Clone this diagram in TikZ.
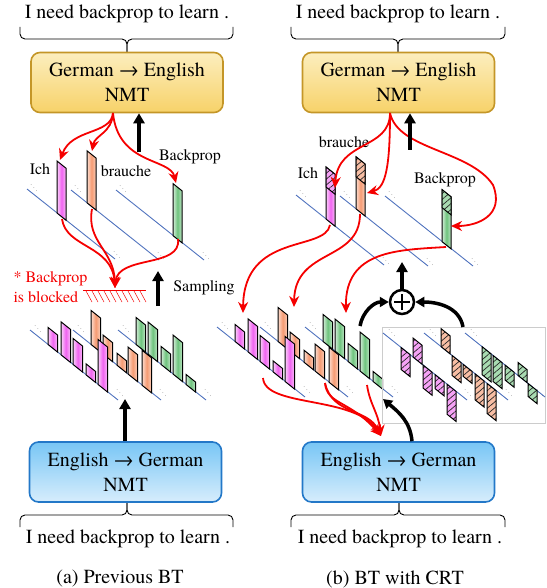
\documentclass[tikz,border=0pt]{standalone}
\usepackage{fontspec}
\setmainfont{TeX Gyre Termes}
\usetikzlibrary{arrows.meta,positioning,patterns.meta}
\definecolor{goldtop}{RGB}{252,238,190}
\definecolor{goldbot}{RGB}{247,210,105}
\definecolor{goldedge}{RGB}{196,150,40}
\definecolor{bluetop}{RGB}{120,198,245}
\definecolor{bluebot}{RGB}{215,237,252}
\definecolor{blueedge}{RGB}{35,120,200}
\definecolor{barpink}{RGB}{240,100,240}
\definecolor{barorange}{RGB}{245,155,115}
\definecolor{bargreen}{RGB}{110,195,125}
\definecolor{axisblue}{RGB}{80,115,190}
\definecolor{arrred}{RGB}{245,0,0}

\begin{document}
\begin{tikzpicture}[x=1pt,y=-1pt,
  every node/.style={font=\fontsize{16}{19}\selectfont},
  sent/.style={font=\fontsize{20}{24}\selectfont,inner sep=0pt},
  nmtgold/.style={draw=goldedge,line width=1.6pt,rounded corners=9pt,
    top color=goldtop,bottom color=goldbot,minimum width=192pt,minimum height=60pt,
    align=center,font=\fontsize{20}{25}\selectfont},
  nmtblue/.style={draw=blueedge,line width=1.6pt,rounded corners=9pt,
    top color=bluetop,bottom color=bluebot,minimum width=192pt,minimum height=60pt,
    align=center,font=\fontsize{20}{25}\selectfont},
  brace/.style={line width=0.9pt,rounded corners=5pt},
  axis/.style={draw=axisblue,line width=0.9pt},
  dots/.style={font=\fontsize{7}{7}\selectfont,inner sep=0pt,text=black!75},
  pinkbar/.style={draw=black,line width=1pt,left color=barpink!30,right color=barpink!45,middle color=barpink},
  orangebar/.style={draw=black,line width=1pt,left color=barorange!35,right color=barorange!50,middle color=barorange},
  greenbar/.style={draw=black,line width=1pt,left color=bargreen!30,right color=bargreen!45,middle color=bargreen},
  hatch/.style={draw=black,line width=1pt,pattern={Lines[angle=40,distance=4.5pt,line width=0.7pt]},pattern color=black!85},
  pinkhatch/.style={hatch,preaction={fill=barpink!60}},
  orangehatch/.style={hatch,preaction={fill=barorange!65}},
  greenhatch/.style={hatch,preaction={fill=bargreen!60}},
  redarr/.style={draw=arrred,line width=1.8pt,-{Stealth[length=11pt,width=10pt]}},
  uparr/.style={line width=3.5pt,-{Triangle[length=10pt,width=11pt]}},
  bentarr/.style={line width=3.5pt,-{Triangle[length=9pt,width=10pt]}},
  oplus/.style={circle,draw,line width=2.5pt,minimum size=24pt,inner sep=0pt},
  % one token per row
  onehot/.pic={
    \draw[axis] (0,0) -- ++(88,70);
    \draw[axis] (44,1) -- ++(88,70);
    \draw[axis] (89,1) -- ++(88,70);
    \draw[pinkbar] (30,24) -- ++(9,7.2) -- ++(0,-52) -- ++(-9,-7.2) -- cycle;
    \draw[orangebar] (60,13.8) -- ++(9,7.2) -- ++(0,-52) -- ++(-9,-7.2) -- cycle;
    \draw[greenbar] (146,46.6) -- ++(9,7.2) -- ++(0,-52) -- ++(-9,-7.2) -- cycle;
    \foreach \x/\y [count=\i] in {0/0,44/1,89/1} {
      \node[dots] (s\i) at (\x+7,\y-4) {$\ddots$};
      \node[dots] (e\i) at (\x+90,\y+63) {$\ddots$};
    }
  },
  % full distributions, back row first
  probs/.pic={
    \draw[axis] (88,0) -- ++(88,70);
    \foreach \u/\d in {18/-27,30/-32,43/-18,55/-39,68/-10}
      \draw[greenbar] (88+\u,0.8*\u) -- ++(9.5,7.6) -- ++(0,\d) -- ++(-9.5,-7.6) -- cycle;
    \draw[axis] (43,0) -- ++(88,70);
    \foreach \u/\d in {18/-34,30/-19,44/-12,55/-27,69/-35}
      \draw[orangebar] (43+\u,0.8*\u) -- ++(9.5,7.6) -- ++(0,\d) -- ++(-9.5,-7.6) -- cycle;
    \draw[axis] (0,0) -- ++(88,70);
    \foreach \u/\d in {18/-17,31/-33,43/-26,56/-11,68/-45}
      \draw[pinkbar] (\u,0.8*\u) -- ++(9.5,7.6) -- ++(0,\d) -- ++(-9.5,-7.6) -- cycle;
    \foreach \x [count=\i] in {0,43,88} {
      \node[dots] (s\i) at (\x+8,-4) {$\ddots$};
      \node[dots] (e\i) at (\x+90,60) {$\ddots$};
    }
  }
]
\useasboundingbox (0,0) rectangle (546,588);

%% (a) previous BT
\node[sent] (tgtA) at (127,14) {I need backprop to learn .};
\draw[brace] (20,27) -- (20,39) -- (127,39) -- (127,52);
\draw[brace] (233,27) -- (233,39) -- (127,39) -- (127,52);
\node[nmtgold] (deenA) at (127,82.5) {German → English\\NMT};

\pic (topA) at (27,189) {onehot};
\node (ichA) at (40,169) {Ich};
\node (brauA) at (126,171) {brauche};
\node (bpA) at (190,157) {Backprop};

\coordinate (srcA) at (113,113);
\coordinate (ichAt) at (60,160);
\coordinate (brauAt) at (92,151);
\coordinate (bpAt) at (176,183);
\draw[redarr] (srcA) .. controls (111,135) and (72,128) .. (ichAt);
\draw[redarr] (srcA) .. controls (112,133) and (95,135) .. (brauAt);
\draw[redarr] (srcA) .. controls (118,165) and (170,158) .. (bpAt);
\coordinate (upA) at (139,152);
\draw[uparr] (upA) -- (upA |- deenA.south);

\coordinate (ichAb) at (62,219);
\coordinate (brauAb) at (92,209);
\coordinate (bpAb) at (178,239);
\coordinate (blockA) at (115,288);
\draw[redarr] (ichAb) .. controls (66,248) and (112,245) .. (blockA);
\draw[redarr] (brauAb) .. controls (86,242) and (114,250) .. (blockA);
\draw[redarr] (bpAb) .. controls (182,268) and (118,255) .. (blockA);

\node[text=arrred,align=left,anchor=west,font=\fontsize{16}{20}\selectfont] (blockTxt) at (10,287) {* Backprop\\is blocked};
\draw[arrred,line width=0.8pt] (83,290) -- (146,290);
\foreach \x in {86,92,...,140}
  \draw[arrred,line width=0.5pt] (\x,291) -- ++(6,11);

\coordinate (sampA) at (158,306);
\coordinate (sampAt) at (158,271);
\draw[uparr] (sampA) -- (sampAt);
\node (sampTxt) at (204,288) {Sampling};

\pic (lowA) at (30,330) {probs};

\node[nmtblue] (endeA) at (125.5,472) {English → German\\NMT};
\coordinate (genA) at (125,399);
\draw[uparr] (genA |- endeA.north) -- (genA);
\draw[brace] (20,527) -- (20,515) -- (127,515) -- (127,503);
\draw[brace] (233,527) -- (233,515) -- (127,515) -- (127,503);
\node[sent] (srcTxtA) at (128,539) {I need backprop to learn .};
\node[sent] (capA) at (120,579) {(a) Previous BT};

%% (b) BT with CRT
\node[sent] (tgtB) at (398,14) {I need backprop to learn .};
\draw[brace] (291,27) -- (291,39) -- (398,39) -- (398,52);
\draw[brace] (505,27) -- (505,39) -- (398,39) -- (398,52);
\node[nmtgold] (deenB) at (398.5,82.5) {German → English\\NMT};

\pic (topB) at (296,195) {onehot};
\begin{scope}[shift={(296,195)}]
  \draw[pinkhatch] (30,-28) -- ++(9,7.2) -- ++(0,20) -- ++(-9,-7.2) -- cycle;
  \draw[orangehatch] (60,-38.2) -- ++(9,7.2) -- ++(0,20) -- ++(-9,-7.2) -- cycle;
  \draw[greenhatch] (146,-5.4) -- ++(9,7.2) -- ++(0,18) -- ++(-9,-7.2) -- cycle;
\end{scope}
\node (ichB) at (308,173) {Ich};
\node (brauB) at (344,142) {brauche};
\node (bpB) at (445,180) {Backprop};

\coordinate (srcB) at (390,113);
\coordinate (ichBt) at (335,188);
\coordinate (brauBt) at (367,193);
\coordinate (bpBt) at (451,226);
\draw[redarr] (srcB) .. controls (390,150) and (338,140) .. (ichBt);
\draw[redarr] (srcB) .. controls (390,165) and (386,188) .. (brauBt);
\draw[redarr] (srcB) .. controls (398,150) and (470,150) .. (493,185) .. controls (505,215) and (478,226) .. (bpBt);
\coordinate (upB) at (410,150);
\draw[uparr] (upB) -- (upB |- deenB.south);

\coordinate (ichBb) at (330,225);
\coordinate (brauBb) at (360,214);
\coordinate (bpBb) at (446,247);
\coordinate (ichBd) at (243,313);
\coordinate (brauBd) at (294,307);
\coordinate (bpBd) at (346,313);
\draw[redarr] (ichBb) .. controls (325,252) and (244,232) .. (ichBd);
\draw[redarr] (brauBb) .. controls (360,262) and (295,248) .. (brauBd);
\draw[redarr] (bpBb) .. controls (398,250) and (345,250) .. (bpBd);

\pic (lowB) at (217,327) {probs};

% contrastive distribution
\draw[black!20,line width=0.8pt] (382,327) rectangle (545,423);
\begin{scope}[shift={(383,333)}]
  \draw[axis] (0,0) -- ++(84,67);
  \draw[axis] (41,0) -- ++(84,67);
  \draw[axis] (82,0) -- ++(80,64);
  \foreach \u/\d in {17/28,28/26,40/15,53/-13,63/13}
    \draw[greenhatch] (82+\u,0.8*\u) -- ++(9,7.2) -- ++(0,\d) -- ++(-9,-7.2) -- cycle;
  \foreach \u/\d in {17/-18,28/20,39/12,51/26,63/30}
    \draw[orangehatch] (41+\u,0.8*\u) -- ++(9,7.2) -- ++(0,\d) -- ++(-9,-7.2) -- cycle;
  \foreach \u/\d in {18/22,30/-19,40/23,52/14,64/30}
    \draw[pinkhatch] (\u,0.8*\u) -- ++(9,7.2) -- ++(0,\d) -- ++(-9,-7.2) -- cycle;
  \foreach \x/\e [count=\i] in {0/85,41/85,82/75} {
    \node[dots] (c\i) at (\x+9,-3) {$\ddots$};
    \node[dots] (d\i) at (\x+\e,57) {$\ddots$};
  }
\end{scope}

\node[oplus] (sumB) at (402,302) {};
\draw[line width=2.5pt] (sumB.center) ++(-8,0) -- ++(16,0) (sumB.center) ++(0,-8) -- ++(0,16);
\coordinate (sumBt) at (402,262);
\draw[uparr] (sumB) -- (sumBt);
\coordinate (mixB) at (360,326);
\coordinate (crtB) at (463,327);
\draw[bentarr] (mixB) to[out=80,in=180] (sumB);
\draw[bentarr] (crtB) to[out=100,in=0] (sumB);

\node[nmtblue] (endeB) at (398.5,472) {English → German\\NMT};
\coordinate (crtIn) at (383,399);
\draw[bentarr] ([xshift=13.5pt]endeB.north) to[out=95,in=-40] (crtIn);

\coordinate (fanB) at (381,436);
\coordinate (pinkB) at (263,378);
\coordinate (oraB) at (325,383);
\coordinate (greB) at (367,385);
\draw[redarr] (pinkB) .. controls (265,408) and (355,395) .. (fanB);
\draw[redarr] (oraB) .. controls (327,405) and (350,400) .. (fanB);
\draw[redarr] (oraB) .. controls (332,415) and (368,408) .. (fanB);
\draw[redarr] (greB) .. controls (370,405) and (378,412) .. (fanB);

\draw[brace] (291,527) -- (291,515) -- (399,515) -- (399,503);
\draw[brace] (505,527) -- (505,515) -- (399,515) -- (399,503);
\node[sent] (srcTxtB) at (400,539) {I need backprop to learn .};
\node[sent] (capB) at (395,579) {(b) BT with CRT};
\end{tikzpicture}
\end{document}
